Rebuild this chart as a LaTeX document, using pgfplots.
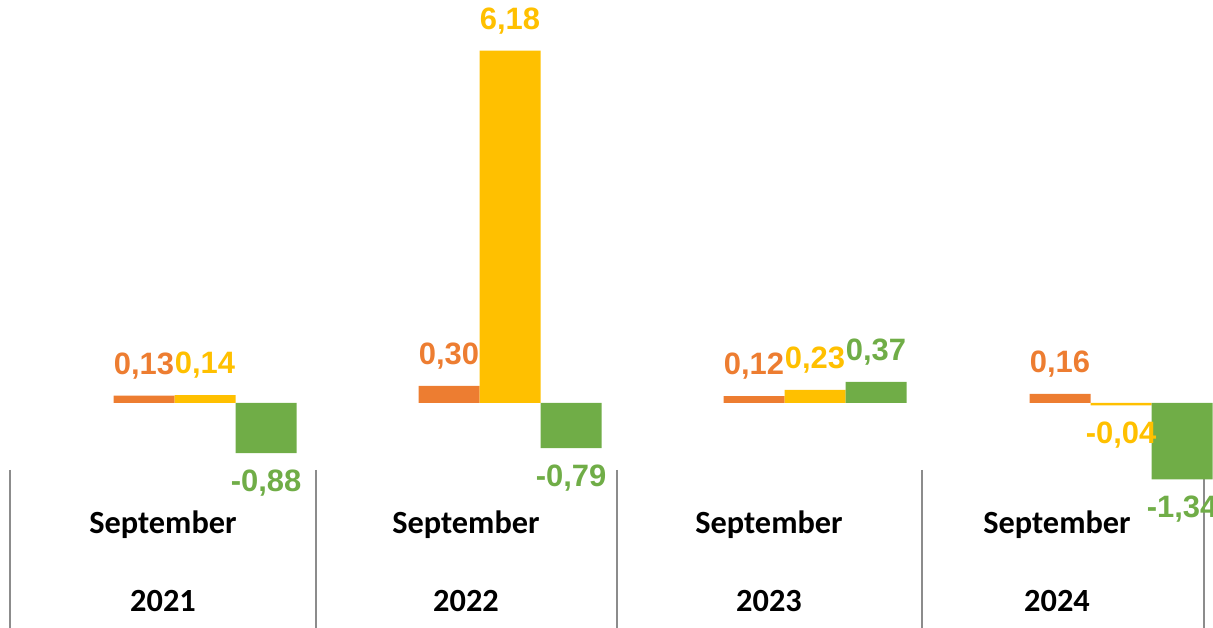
\documentclass[border=0pt]{standalone}
\usepackage{pgfplots}
\pgfplotsset{compat=1.18}
\usepackage{fontspec}
\setmainfont{Carlito}
\newfontfamily\arialf{Liberation Sans}
\definecolor{cOr}{HTML}{ED7D31}
\definecolor{cYe}{HTML}{FFC000}
\definecolor{cGr}{HTML}{70AD47}
\definecolor{cSep}{HTML}{8C8C8C}
\begin{document}
\begin{tikzpicture}
\begin{axis}[
  scale only axis, width=12.13cm, height=6.28cm,
  xmin=0, xmax=1213, ymin=-3.947, ymax=7.07,
  hide axis, clip=false,
  nodes near coords={\pgfmathprintnumber{\pgfplotspointmeta}},
  every node near coord/.append style={font=\arialf\bfseries\fontsize{8.8}{10}\selectfont, inner ysep=4.5pt},
  /pgf/number format/.cd, use comma, fixed, fixed zerofill, precision=2, assume math mode=true,
]
% category separators
\addplot[cSep, line width=0.45pt, no marks, nodes near coords=] coordinates {(10,-1.175) (10,-3.947)};
\addplot[cSep, line width=0.45pt, no marks, nodes near coords=] coordinates {(316,-1.175) (316,-3.947)};
\addplot[cSep, line width=0.45pt, no marks, nodes near coords=] coordinates {(617,-1.175) (617,-3.947)};
\addplot[cSep, line width=0.45pt, no marks, nodes near coords=] coordinates {(922,-1.175) (922,-3.947)};
\addplot[cSep, line width=0.45pt, no marks, nodes near coords=] coordinates {(1204,-1.175) (1204,-3.947)};
% bars
\addplot[ybar, bar width=61, bar shift=0pt, fill=cOr, draw=none, every node near coord/.append style={text=cOr}]
  coordinates {(144,0.13) (449,0.30) (754,0.12) (1060,0.16)};
\addplot[ybar, bar width=61, bar shift=0pt, fill=cYe, draw=none, every node near coord/.append style={text=cYe}]
  coordinates {(205,0.14) (510,6.18) (815,0.23) (1121,-0.04)};
\addplot[ybar, bar width=61, bar shift=0pt, fill=cGr, draw=none, every node near coord/.append style={text=cGr}]
  coordinates {(266,-0.88) (571,-0.79) (876,0.37) (1182,-1.34)};
% category labels
\foreach \cx/\yr in {163/2021, 466/2022, 769/2023, 1057/2024} {
  \edef\tmp{\noexpand\node[font=\noexpand\bfseries\noexpand\fontsize{9.2}{10}\noexpand\selectfont] at (axis cs:\cx,-2.14) {September};
  \noexpand\node[font=\noexpand\bfseries\noexpand\fontsize{9.2}{10}\noexpand\selectfont] at (axis cs:\cx,-3.47) {\yr};}
  \tmp
}
\end{axis}
\pgfresetboundingbox
\useasboundingbox (current axis.south west) rectangle (current axis.north east);
\end{tikzpicture}
\end{document}
